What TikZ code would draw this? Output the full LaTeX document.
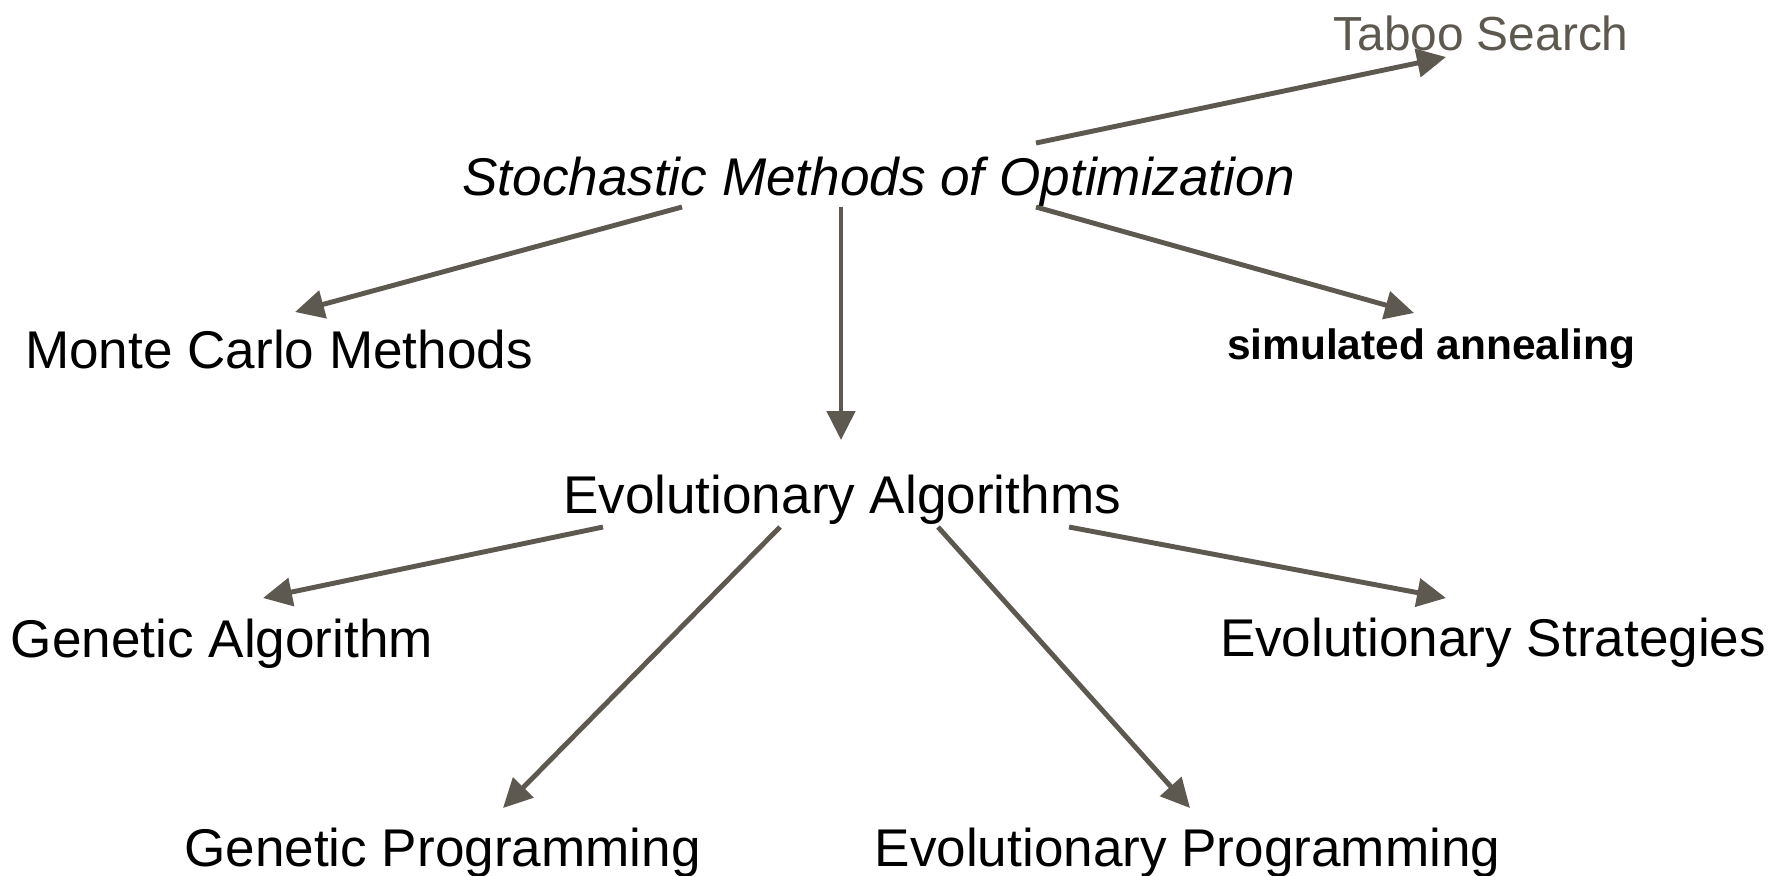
\documentclass[tikz,border=0pt]{standalone}
\usepackage{fontspec}
\setmainfont{Liberation Sans}
\usepackage{tikz}
\usetikzlibrary{arrows.meta,positioning}
\definecolor{arrowgray}{RGB}{94,89,80}

\begin{document}
\begin{tikzpicture}[x=0.01cm, y=-0.01cm,
		lbl/.style={inner sep=0pt, anchor=base, font=\fontsize{15.1}{18}\selectfont},
		arr/.style={draw=arrowgray, line width=1.4pt, -{Triangle[length=0.29cm, width=0.28cm]}}]
		\useasboundingbox (0,0) rectangle (1777,875);

		\node[lbl, font=\fontsize{15.1}{18}\selectfont\itshape] (Stoch) at (878.5,195) {Stochastic Methods of Optimization};
		\node[lbl, font=\fontsize{13.6}{16}\selectfont, text=arrowgray] (Taboo) at (1481,50) {Taboo Search};
		\node[lbl] (Monte) at (279,368) {Monte Carlo Methods};
		\node[lbl, font=\fontsize{12.07}{14}\selectfont\bfseries] (Annealing) at (1431,359) {simulated annealing};
		\node[lbl] (Evol) at (842,513) {Evolutionary Algorithms};
		\node[lbl] (GenAlg) at (222,657) {Genetic Algorithm};
		\node[lbl] (EvolStrat) at (1493,656) {Evolutionary Strategies};
		\node[lbl] (GenProg) at (442.5,866) {Genetic Programming};
		\node[lbl] (EvolProg) at (1187.5,866) {Evolutionary Programming};

		% first level
		\draw[arr] ([shift={(157.5,-52)}]Stoch.base) -- ([shift={(-35,7)}]Taboo.base);
		\draw[arr] ([shift={(-196.5,12)}]Stoch.base) -- ([shift={(16,-56)}]Monte.base);
		\draw[arr] ([shift={(-37.5,12)}]Stoch.base) -- ([shift={(-1,-73)}]Evol.base);
		\draw[arr] ([shift={(157.5,12)}]Stoch.base) -- ([shift={(-17,-46)}]Annealing.base);

		% second level
		\draw[arr] ([shift={(-239,14)}]Evol.base) -- ([shift={(41,-59)}]GenAlg.base);
		\draw[arr] ([shift={(-62,14)}]Evol.base) -- ([shift={(60.5,-58)}]GenProg.base);
		\draw[arr] ([shift={(96,14)}]Evol.base) -- ([shift={(2.5,-58)}]EvolProg.base);
		\draw[arr] ([shift={(227,14)}]Evol.base) -- ([shift={(-47,-58)}]EvolStrat.base);
	\end{tikzpicture}
\end{document}
